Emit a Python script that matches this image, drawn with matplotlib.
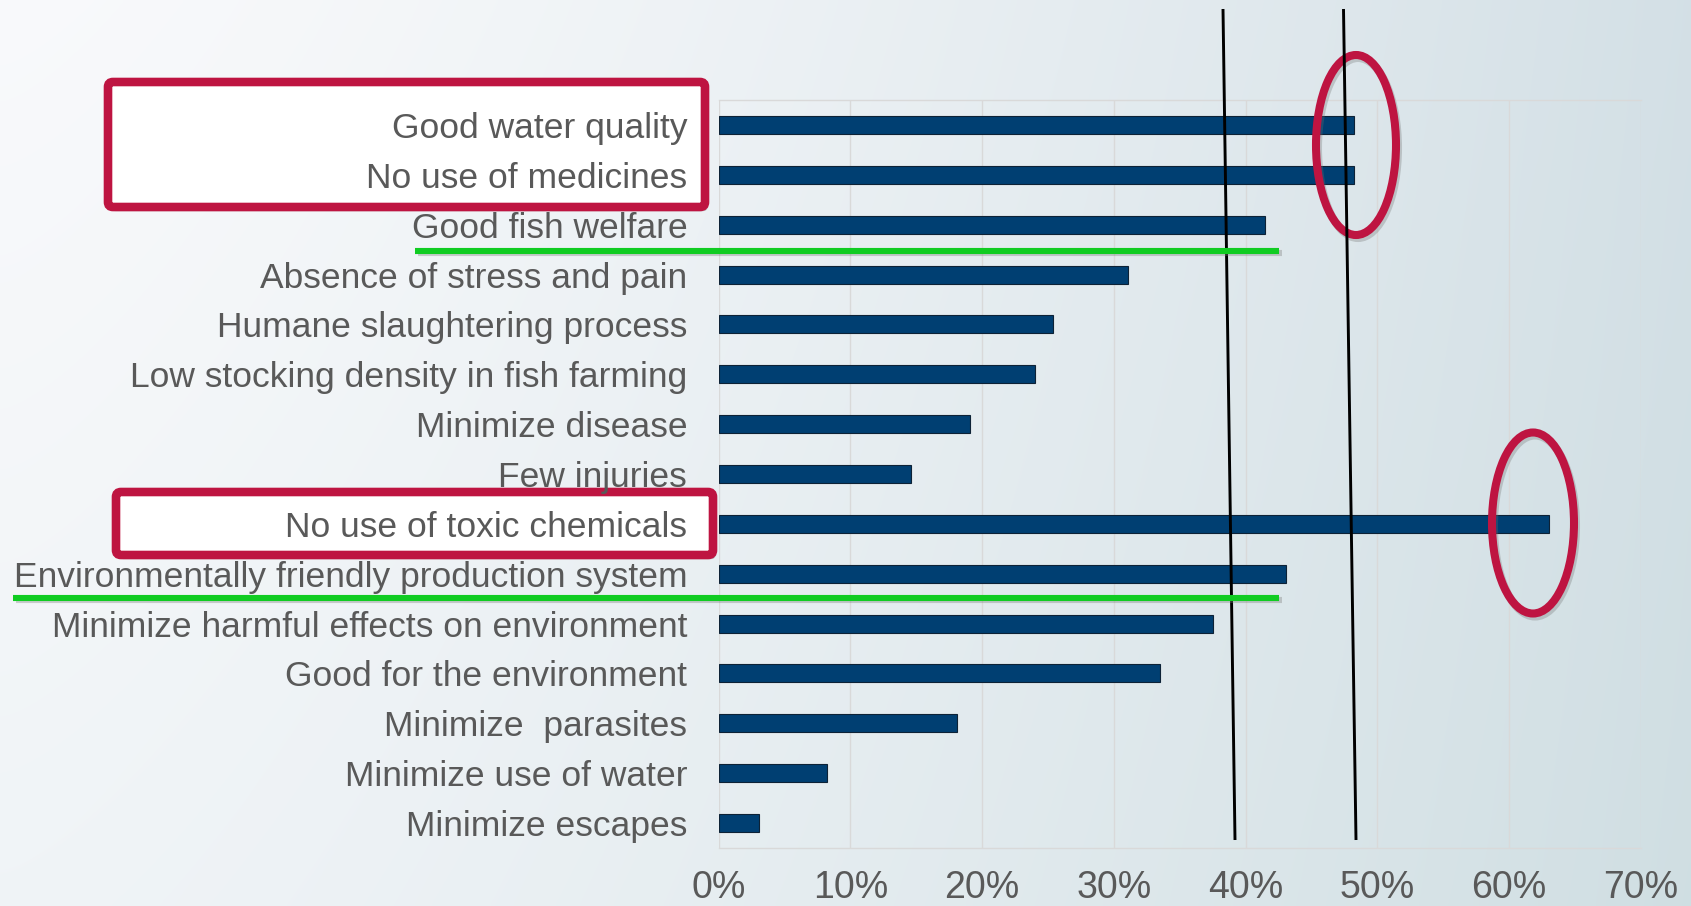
import numpy as np
import matplotlib
matplotlib.use("Agg")
import matplotlib.pyplot as plt
from matplotlib.patches import FancyBboxPatch, Ellipse
from matplotlib.ticker import FuncFormatter
import matplotlib.patheffects as pe

# Share of respondents naming each attribute
categories = [
    "Good water quality",
    "No use of medicines",
    "Good fish welfare",
    "Absence of stress and pain",
    "Humane slaughtering process",
    "Low stocking density in fish farming",
    "Minimize disease",
    "Few injuries",
    "No use of toxic chemicals",
    "Environmentally friendly production system",
    "Minimize harmful effects on environment",
    "Good for the environment",
    "Minimize  parasites",
    "Minimize use of water",
    "Minimize escapes",
]
values = [0.482, 0.482, 0.415, 0.311, 0.254, 0.240, 0.191, 0.146,
          0.630, 0.431, 0.375, 0.335, 0.181, 0.082, 0.031]
x_ticks = [0.0, 0.1, 0.2, 0.3, 0.4, 0.5, 0.6, 0.7]

W, H = 1691, 906
fig = plt.figure(figsize=(W / 100, H / 100), dpi=100)

# Soft slide-style background gradient
bg = fig.add_axes([0, 0, 1, 1], zorder=0)
gx = np.linspace(0, 1, 400)
gy = np.linspace(0, 1, 220)
X, Y = np.meshgrid(gx, gy)
left_top = np.array([0.975, 0.979, 0.986])
left_bot = np.array([0.940, 0.956, 0.968])
right_top = np.array([0.830, 0.878, 0.902])
right_bot = np.array([0.815, 0.872, 0.888])
t = (X ** 1.4)[..., None]
v = Y[..., None]
left = left_top * (1 - v) + left_bot * v
right = right_top * (1 - v) + right_bot * v
img = left * (1 - t) + right * t
bg.imshow(img, extent=[0, W, H, 0], aspect="auto", interpolation="bilinear")
bg.set_xlim(0, W)
bg.set_ylim(H, 0)
bg.axis("off")

crimson = "#BE1441"

# Highlight boxes behind the category labels
for (x0, y0, x1, y1) in [(108, 82, 705, 207), (116, 492, 713, 555)]:
    box = FancyBboxPatch((x0, y0), x1 - x0, y1 - y0,
                         boxstyle="round,pad=0,rounding_size=5",
                         facecolor="white", edgecolor=crimson, linewidth=6.2,
                         zorder=2)
    box.set_path_effects([pe.SimplePatchShadow(offset=(2, -3), alpha=0.3), pe.Normal()])
    bg.add_patch(box)

# Bar chart
ax = fig.add_axes([718.5 / W, 1 - 848 / H, (1641 - 718.5) / W, (848 - 100) / H], zorder=3)
ax.patch.set_alpha(0)
ypos = np.arange(len(categories))
ax.barh(ypos, values, height=0.36, color="#003F72", edgecolor="#0d2236",
        linewidth=0.8, zorder=3)
ax.set_ylim(len(categories) - 0.5, -0.5)
ax.set_xlim(0, 0.7)
ax.set_xticks(x_ticks)
ax.xaxis.set_major_formatter(FuncFormatter(lambda v, _: f"{v * 100:.0f}%"))
ax.set_yticks(ypos)
ax.set_yticklabels(categories, fontsize=25.5, color="#595959", family="Liberation Sans")
ax.tick_params(axis="y", length=0, pad=22.5)
ax.tick_params(axis="x", length=0, pad=16, labelsize=27, labelcolor="#595959")
for lab in ax.get_xticklabels():
    lab.set_family(["Liberation Sans Narrow", "Liberation Sans"])
ax.grid(axis="x", color="#d9d9d9", linewidth=1.0, zorder=0)
ax.set_axisbelow(True)
for side in ["left", "right"]:
    ax.spines[side].set_visible(False)
for side in ["top", "bottom"]:
    ax.spines[side].set_color("#d9d9d9")
    ax.spines[side].set_linewidth(1.0)

# Overlay annotations in pixel coordinates
ov = fig.add_axes([0, 0, 1, 1], zorder=5)
ov.set_xlim(0, W)
ov.set_ylim(H, 0)
ov.patch.set_alpha(0)
ov.axis("off")

for (xa, ya, xb, yb) in [(1223, 9, 1235, 840), (1343.5, 9, 1356, 840)]:
    ov.plot([xa, xb], [ya, yb], color="black", linewidth=2.1, solid_capstyle="butt")

green = "#10CC22"
line_shadow = [pe.SimpleLineShadow(offset=(2, -2), shadow_color="#7a7a7a", alpha=0.35), pe.Normal()]
for (xa, xb, yy) in [(415, 1279, 250.5), (13, 1279, 597.5)]:
    ov.plot([xa, xb], [yy, yy], color=green, linewidth=4.4, solid_capstyle="butt",
            path_effects=line_shadow)

for (cx, cy, ew, eh) in [(1356, 145, 80, 180), (1533, 523, 82, 181)]:
    sh = Ellipse((cx + 2, cy + 3), ew, eh, facecolor="none", edgecolor="#6f6f6f",
                 linewidth=5.8, alpha=0.3)
    ov.add_patch(sh)
    el = Ellipse((cx, cy), ew, eh, facecolor="none", edgecolor=crimson, linewidth=5.8)
    ov.add_patch(el)

fig.savefig("out.png", dpi=100)
